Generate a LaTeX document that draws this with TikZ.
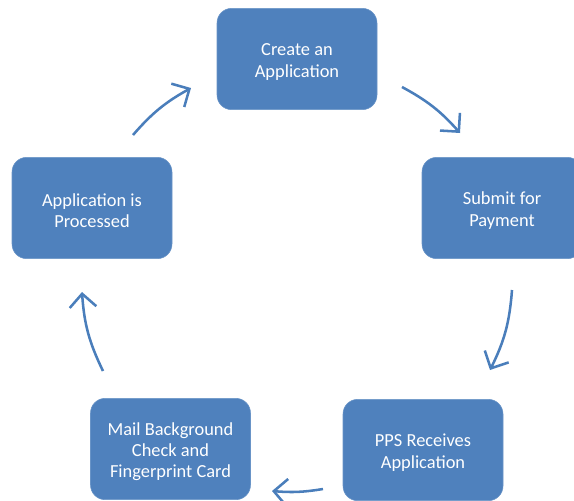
\documentclass[tikz,border=0pt]{standalone}
\usepackage{fontspec}
\setmainfont{Carlito}
\usetikzlibrary{arrows.meta}

\definecolor{boxblue}{RGB}{79,129,189}
\definecolor{arrowblue}{RGB}{74,126,187}

\newcommand{\lift}{\rule{0pt}{13.5pt}}

\tikzstyle{stage} = [draw=boxblue!85!white, fill=boxblue, rounded corners=11pt,
  minimum width=120pt, minimum height=76pt, inner sep=0pt,
  text=white, align=center, font=\fontsize{13.8}{15.8}\selectfont]
\tikzstyle{flow} = [draw=arrowblue, line width=1.9pt,
  -{Straight Barb[length=10pt,width=20pt]}]

\begin{document}
\begin{tikzpicture}[x=0.75pt, y=0.75pt]

\useasboundingbox (0,0) rectangle (574,-500);

%STAGES
\node[stage] (create) at (297,-59) {\lift Create an\\Application};
\node[stage] (submit) at (502,-208) {\lift Submit for\\Payment};
\node[stage] (pps) at (423,-450) {\lift PPS Receives\\Application};
\node[stage] (mail) at (170.5,-449) {\lift Mail Background\\Check and\\Fingerprint Card};
\node[stage] (proc) at (92,-208) {\lift Application is\\Processed};

%ARROW ENDS
\coordinate (s1) at (402,-87);  \coordinate (e1) at (460,-133);
\coordinate (s2) at (512,-290); \coordinate (e2) at (490,-370);
\coordinate (s3) at (323,-489); \coordinate (e3) at (272,-491);
\coordinate (s4) at (103,-371); \coordinate (e4) at (82,-292);
\coordinate (s5) at (133,-135); \coordinate (e5) at (191,-88);

%ARROWS
\foreach \a/\b/\ang in {s1/e1/10, s2/e2/11, s3/e3/7, s4/e4/11, s5/e5/10} {%
 \draw[flow] (\a) to[bend left=\ang] (\b);
}

\end{tikzpicture}
\end{document}
